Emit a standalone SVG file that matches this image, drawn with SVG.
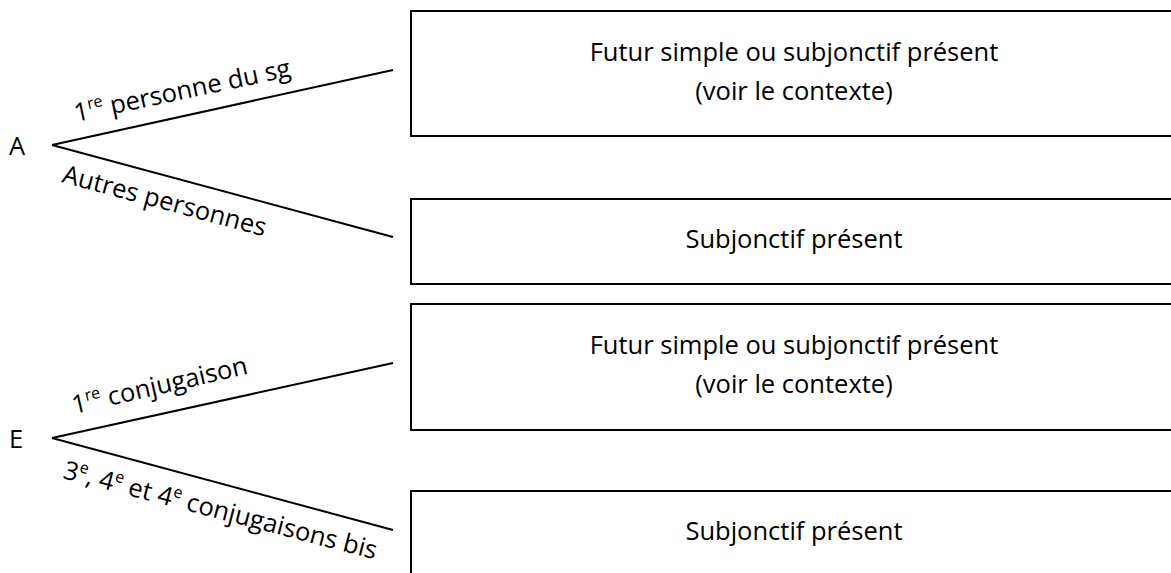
<svg xmlns="http://www.w3.org/2000/svg" width="1171" height="573" viewBox="0 0 1171 573">
<style>
text{font-family:"Open Sans","Noto Sans","Liberation Sans",sans-serif;font-size:25.5px;fill:#000}
.box{fill:#fff;stroke:#000;stroke-width:2}
.c{text-anchor:middle}
.ln{stroke:#000;stroke-width:2;fill:none}
.sup{font-size:16px}
</style>
<rect width="1171" height="573" fill="#fff"/>
<g id="connectors">
<path class="ln" d="M52,145 L393,70 M52,145 L393,237"/>
<path class="ln" d="M52,438 L393,363 M52,438 L393,530"/>
<text transform="translate(76,122) rotate(-12)" font-size="25px">1<tspan class="sup" dy="-10">re</tspan><tspan dy="10"> personne du sg</tspan></text>
<text transform="translate(61,182) rotate(15)" font-size="24.5px">Autres personnes</text>
<text transform="translate(74,414) rotate(-13)">1<tspan class="sup" dy="-10">re</tspan><tspan dy="10"> conjugaison</tspan></text>
<text transform="translate(62,478) rotate(14.6)">3<tspan class="sup" dy="-10">e</tspan><tspan dy="10">, 4</tspan><tspan class="sup" dy="-10">e</tspan><tspan dy="10"> et 4</tspan><tspan class="sup" dy="-10">e</tspan><tspan dy="10"> conjugaisons bis</tspan></text>
</g>
<g id="nodeA"><text x="9" y="155">A</text></g>
<g id="nodeE"><text x="9" y="448">E</text></g>
<g id="box1">
<rect class="box" x="411" y="11" width="780" height="125"/>
<text class="c" x="794" y="61">Futur simple ou subjonctif présent</text>
<text class="c" x="794" y="100">(voir le contexte)</text>
</g>
<g id="box2">
<rect class="box" x="411" y="199" width="780" height="85"/>
<text class="c" x="794" y="248">Subjonctif présent</text>
</g>
<g id="box3">
<rect class="box" x="411" y="304" width="780" height="126"/>
<text class="c" x="794" y="354">Futur simple ou subjonctif présent</text>
<text class="c" x="794" y="393">(voir le contexte)</text>
</g>
<g id="box4">
<rect class="box" x="411" y="491" width="780" height="120"/>
<text class="c" x="794" y="540">Subjonctif présent</text>
</g>
</svg>
